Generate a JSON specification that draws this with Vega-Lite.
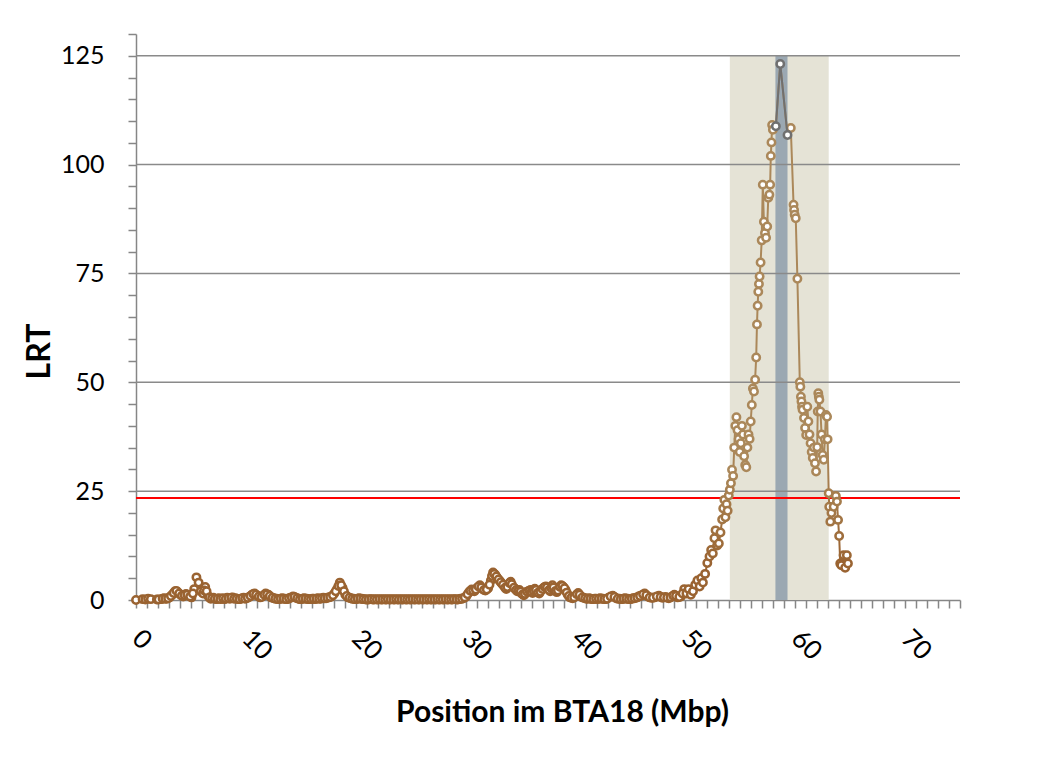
{
"$schema": "https://vega.github.io/schema/vega-lite/v6.json",
"width": 824, "height": 566,
"autosize": "none",
"padding": {"left": 136, "top": 34, "right": 99, "bottom": 167},
"background": "white",
"config": {
 "view": {"stroke": null},
 "font": "Lato",
 "axisX": {"labelAngle": 45, "labelAlign": "left", "labelBaseline": "middle", "labelFontSize": 26, "labelColor": "#000000", "labelPadding": 26, "labelFont": "Lato",
  "tickCount": 75, "labelExpr": "datum.value % 10 === 0 ? datum.label : ''",
  "tickSize": 8, "tickColor": "#868686", "tickWidth": 1.5, "domainColor": "#868686", "domainWidth": 1.5, "grid": false,
  "labelOverlap": false, "labelBound": false, "labelFlush": false,
  "titleFont": "Lato", "titleFontSize": 30, "titleFontWeight": "bold", "titleColor": "#000000",
  "titleX": 426, "titleY": 112, "titleAlign": "center", "titleBaseline": "middle"},
 "axisY": {"labelFontSize": 25, "labelColor": "#000000", "labelPadding": 24, "labelFont": "Lato",
  "tickCount": 26, "labelExpr": "datum.value % 25 === 0 ? datum.label : ''",
  "tickSize": 8, "tickColor": "#868686", "tickWidth": 1.5, "domainColor": "#868686", "domainWidth": 1.5, "grid": false,
  "labelOverlap": false, "labelBound": false, "labelFlush": false,
  "titleFont": "Lato", "titleFontSize": 32, "titleFontWeight": "bold", "titleColor": "#000000",
  "titleX": -97, "titleY": 317, "titleAngle": -90, "titleAlign": "center", "titleBaseline": "middle"}
},
"datasets": {
"bands": [{"x1": 54.05, "x2": 63.05, "band": "region"}, {"x1": 58.2, "x2": 59.3, "band": "peak"}],
"grid": [{"g": 25}, {"g": 50}, {"g": 75}, {"g": 100}, {"g": 125}],
"thr": [{"t": 23.4}],
"main": [
{"p":0,"v":0,"s":"a"},{"p":0.6,"v":0.2,"s":"a"},{"p":0.85,"v":0.1,"s":"a"},{"p":1.1,"v":0.3,"s":"a"},{"p":1.35,"v":0.2,"s":"a"},{"p":1.9,"v":0.1,"s":"a"},{"p":2.3,"v":0.2,"s":"a"},{"p":2.55,"v":0.4,"s":"a"},{"p":2.8,"v":0.3,"s":"a"},{"p":3.05,"v":0.6,"s":"a"},{"p":3.3,"v":1.2,"s":"a"},{"p":3.55,"v":2.0,"s":"a"},{"p":3.8,"v":1.8,"s":"a"},{"p":4.05,"v":1.2,"s":"a"},{"p":4.3,"v":0.8,"s":"a"},{"p":4.55,"v":1.4,"s":"a"},{"p":4.8,"v":1.0,"s":"a"},{"p":5.05,"v":0.6,"s":"a"},{"p":5.3,"v":2.5,"s":"a"},{"p":5.5,"v":5.2,"s":"a"},{"p":5.7,"v":4.0,"s":"a"},{"p":5.9,"v":2.0,"s":"a"},{"p":6.1,"v":1.5,"s":"a"},{"p":6.3,"v":3.0,"s":"a"},{"p":6.55,"v":1.0,"s":"a"},{"p":6.8,"v":0.3,"s":"a"},{"p":7.05,"v":0.5,"s":"a"},{"p":7.3,"v":0.2,"s":"a"},{"p":7.55,"v":0.4,"s":"a"},{"p":7.8,"v":0.3,"s":"a"},{"p":8.05,"v":0.2,"s":"a"},{"p":8.3,"v":0.5,"s":"a"},{"p":8.55,"v":0.3,"s":"a"},{"p":8.8,"v":0.6,"s":"a"},{"p":9.05,"v":0.4,"s":"a"},{"p":9.3,"v":0.2,"s":"a"},{"p":9.55,"v":0.3,"s":"a"},{"p":9.8,"v":0.5,"s":"a"},{"p":10.05,"v":0.4,"s":"a"},{"p":10.3,"v":0.7,"s":"a"},{"p":10.55,"v":1.2,"s":"a"},{"p":10.8,"v":1.5,"s":"a"},{"p":11.05,"v":1.0,"s":"a"},{"p":11.3,"v":0.6,"s":"a"},{"p":11.55,"v":0.9,"s":"a"},{"p":11.8,"v":1.5,"s":"a"},{"p":12.05,"v":1.2,"s":"a"},{"p":12.3,"v":0.6,"s":"a"},{"p":12.55,"v":0.4,"s":"a"},{"p":12.8,"v":0.3,"s":"a"},{"p":13.05,"v":0.2,"s":"a"},{"p":13.3,"v":0.4,"s":"a"},{"p":13.55,"v":0.3,"s":"a"},{"p":13.8,"v":0.2,"s":"a"},{"p":14.05,"v":0.5,"s":"a"},{"p":14.3,"v":0.8,"s":"a"},{"p":14.55,"v":0.5,"s":"a"},{"p":14.8,"v":0.3,"s":"a"},{"p":15.05,"v":0.2,"s":"a"},{"p":15.3,"v":0.4,"s":"a"},{"p":15.55,"v":0.3,"s":"a"},{"p":15.8,"v":0.2,"s":"a"},{"p":16.05,"v":0.3,"s":"a"},{"p":16.3,"v":0.2,"s":"a"},{"p":16.55,"v":0.4,"s":"a"},{"p":16.8,"v":0.3,"s":"a"},{"p":17.05,"v":0.5,"s":"a"},{"p":17.3,"v":0.4,"s":"a"},{"p":17.55,"v":0.6,"s":"a"},{"p":17.8,"v":0.8,"s":"a"},{"p":18.05,"v":1.5,"s":"a"},{"p":18.3,"v":2.5,"s":"a"},{"p":18.55,"v":4.0,"s":"a"},{"p":18.8,"v":2.8,"s":"a"},{"p":19.05,"v":1.2,"s":"a"},{"p":19.3,"v":0.6,"s":"a"},{"p":19.55,"v":0.4,"s":"a"},{"p":19.8,"v":0.3,"s":"a"},{"p":20.05,"v":0.2,"s":"a"},{"p":20.3,"v":0.4,"s":"a"},{"p":20.55,"v":0.3,"s":"a"},{"p":20.8,"v":0.2,"s":"a"},{"p":21.05,"v":0.1,"s":"a"},{"p":21.3,"v":0.2,"s":"a"},{"p":21.55,"v":0.1,"s":"a"},{"p":21.8,"v":0.2,"s":"a"},{"p":22.05,"v":0.1,"s":"a"},{"p":22.3,"v":0.1,"s":"a"},{"p":22.55,"v":0.2,"s":"a"},{"p":22.8,"v":0.1,"s":"a"},{"p":23.05,"v":0.1,"s":"a"},{"p":23.3,"v":0.2,"s":"a"},{"p":23.55,"v":0.1,"s":"a"},{"p":23.8,"v":0.1,"s":"a"},{"p":24.05,"v":0.2,"s":"a"},{"p":24.3,"v":0.1,"s":"a"},{"p":24.55,"v":0.1,"s":"a"},{"p":24.8,"v":0.2,"s":"a"},{"p":25.05,"v":0.1,"s":"a"},{"p":25.3,"v":0.1,"s":"a"},{"p":25.55,"v":0.2,"s":"a"},{"p":25.8,"v":0.1,"s":"a"},{"p":26.05,"v":0.1,"s":"a"},{"p":26.3,"v":0.2,"s":"a"},{"p":26.55,"v":0.1,"s":"a"},{"p":26.8,"v":0.1,"s":"a"},{"p":27.05,"v":0.2,"s":"a"},{"p":27.3,"v":0.1,"s":"a"},{"p":27.55,"v":0.1,"s":"a"},{"p":27.8,"v":0.2,"s":"a"},{"p":28.05,"v":0.1,"s":"a"},{"p":28.3,"v":0.1,"s":"a"},{"p":28.55,"v":0.2,"s":"a"},{"p":28.8,"v":0.1,"s":"a"},{"p":29.05,"v":0.2,"s":"a"},{"p":29.3,"v":0.1,"s":"a"},{"p":29.55,"v":0.3,"s":"a"},{"p":29.8,"v":0.4,"s":"a"},
{"p":30.05,"v":0.8,"s":"a"},{"p":30.3,"v":1.8,"s":"a"},{"p":30.55,"v":2.4,"s":"a"},{"p":30.8,"v":2.0,"s":"a"},{"p":31.05,"v":2.8,"s":"a"},{"p":31.3,"v":3.4,"s":"a"},{"p":31.55,"v":2.5,"s":"a"},{"p":31.8,"v":2.2,"s":"a"},{"p":32.05,"v":2.7,"s":"a"},{"p":32.3,"v":4.5,"s":"a"},{"p":32.5,"v":6.3,"s":"a"},{"p":32.7,"v":5.8,"s":"a"},{"p":32.9,"v":5.0,"s":"a"},{"p":33.1,"v":4.4,"s":"a"},{"p":33.3,"v":3.8,"s":"a"},{"p":33.5,"v":3.2,"s":"a"},{"p":33.7,"v":2.5,"s":"a"},{"p":33.9,"v":3.5,"s":"a"},{"p":34.1,"v":4.2,"s":"a"},{"p":34.3,"v":3.0,"s":"a"},{"p":34.5,"v":2.6,"s":"a"},{"p":34.7,"v":2.0,"s":"a"},{"p":34.9,"v":2.3,"s":"a"},{"p":35.1,"v":1.5,"s":"a"},{"p":35.3,"v":1.1,"s":"a"},{"p":35.5,"v":1.8,"s":"a"},{"p":35.7,"v":2.0,"s":"a"},{"p":35.9,"v":2.3,"s":"a"},{"p":36.1,"v":1.6,"s":"a"},{"p":36.3,"v":2.6,"s":"a"},{"p":36.5,"v":2.0,"s":"a"},{"p":36.7,"v":1.5,"s":"a"},{"p":36.9,"v":2.3,"s":"a"},{"p":37.1,"v":2.8,"s":"a"},{"p":37.3,"v":3.1,"s":"a"},{"p":37.5,"v":2.7,"s":"a"},{"p":37.7,"v":2.0,"s":"a"},{"p":37.9,"v":3.4,"s":"a"},{"p":38.1,"v":2.5,"s":"a"},{"p":38.3,"v":1.8,"s":"a"},{"p":38.5,"v":2.7,"s":"a"},{"p":38.7,"v":3.4,"s":"a"},{"p":38.9,"v":3.0,"s":"a"},{"p":39.1,"v":2.3,"s":"a"},{"p":39.3,"v":1.2,"s":"a"},{"p":39.5,"v":0.6,"s":"a"},{"p":39.75,"v":0.4,"s":"a"},{"p":40.0,"v":0.9,"s":"a"},{"p":40.25,"v":1.6,"s":"a"},{"p":40.5,"v":0.8,"s":"a"},{"p":40.75,"v":0.5,"s":"a"},{"p":41.0,"v":0.3,"s":"a"},{"p":41.25,"v":0.4,"s":"a"},{"p":41.5,"v":0.2,"s":"a"},{"p":41.75,"v":0.3,"s":"a"},{"p":42.0,"v":0.2,"s":"a"},{"p":42.25,"v":0.4,"s":"a"},{"p":42.5,"v":0.3,"s":"a"},{"p":42.75,"v":0.2,"s":"a"},{"p":43.0,"v":0.5,"s":"a"},{"p":43.4,"v":1.0,"s":"a"},{"p":43.7,"v":0.4,"s":"a"},{"p":44.0,"v":0.3,"s":"a"},{"p":44.25,"v":0.2,"s":"a"},{"p":44.5,"v":0.4,"s":"a"},{"p":44.75,"v":0.3,"s":"a"},{"p":45.0,"v":0.2,"s":"a"},{"p":45.25,"v":0.4,"s":"a"},{"p":45.5,"v":0.5,"s":"a"},{"p":45.75,"v":0.8,"s":"a"},{"p":46.0,"v":1.0,"s":"a"},{"p":46.3,"v":1.5,"s":"a"},{"p":46.6,"v":0.8,"s":"a"},{"p":46.9,"v":0.5,"s":"a"},{"p":47.2,"v":0.6,"s":"a"},{"p":47.6,"v":1.0,"s":"a"},{"p":47.9,"v":0.5,"s":"a"},{"p":48.2,"v":0.7,"s":"a"},{"p":48.5,"v":0.4,"s":"a"},{"p":48.8,"v":0.8,"s":"a"},{"p":49.0,"v":1.2,"s":"a"},{"p":49.3,"v":0.6,"s":"a"},{"p":49.6,"v":0.8,"s":"a"},{"p":49.9,"v":2.5,"s":"a"},
{"p":2.05,"v":0.1,"s":"a"},{"p":2.425,"v":0.3,"s":"a"},{"p":2.675,"v":0.3,"s":"a"},{"p":2.925,"v":0.4,"s":"a"},{"p":3.175,"v":0.9,"s":"a"},{"p":3.425,"v":1.6,"s":"a"},{"p":3.675,"v":2.1,"s":"a"},{"p":3.925,"v":1.5,"s":"a"},{"p":4.175,"v":1.0,"s":"a"},{"p":4.425,"v":1.1,"s":"a"},{"p":4.675,"v":1.2,"s":"a"},{"p":4.925,"v":0.8,"s":"a"},{"p":5.175,"v":1.5,"s":"a"},{"p":6.2,"v":2.2,"s":"a"},{"p":6.425,"v":2.0,"s":"a"},{"p":6.675,"v":0.6,"s":"a"},
{"p":6.925,"v":0.4,"s":"a"},{"p":7.175,"v":0.3,"s":"a"},{"p":7.425,"v":0.3,"s":"a"},{"p":7.675,"v":0.2,"s":"a"},{"p":7.925,"v":0.4,"s":"a"},{"p":8.175,"v":0.3,"s":"a"},{"p":8.425,"v":0.4,"s":"a"},{"p":8.675,"v":0.5,"s":"a"},{"p":8.925,"v":0.3,"s":"a"},{"p":9.175,"v":0.3,"s":"a"},{"p":9.425,"v":0.2,"s":"a"},{"p":9.675,"v":0.4,"s":"a"},{"p":9.925,"v":0.3,"s":"a"},{"p":10.175,"v":0.5,"s":"a"},{"p":10.425,"v":0.9,"s":"a"},{"p":10.675,"v":1.4,"s":"a"},{"p":10.925,"v":1.2,"s":"a"},{"p":11.175,"v":0.8,"s":"a"},{"p":11.425,"v":0.7,"s":"a"},{"p":11.675,"v":1.2,"s":"a"},{"p":11.925,"v":1.3,"s":"a"},{"p":12.175,"v":0.9,"s":"a"},{"p":12.425,"v":0.5,"s":"a"},{"p":12.675,"v":0.3,"s":"a"},{"p":12.925,"v":0.2,"s":"a"},{"p":13.175,"v":0.3,"s":"a"},{"p":13.425,"v":0.3,"s":"a"},{"p":13.675,"v":0.2,"s":"a"},{"p":13.925,"v":0.4,"s":"a"},{"p":14.175,"v":0.6,"s":"a"},{"p":14.425,"v":0.7,"s":"a"},{"p":14.675,"v":0.4,"s":"a"},{"p":14.925,"v":0.2,"s":"a"},{"p":15.175,"v":0.3,"s":"a"},{"p":15.425,"v":0.3,"s":"a"},{"p":15.675,"v":0.2,"s":"a"},{"p":15.925,"v":0.2,"s":"a"},{"p":16.175,"v":0.3,"s":"a"},{"p":16.425,"v":0.3,"s":"a"},{"p":16.675,"v":0.3,"s":"a"},{"p":16.925,"v":0.4,"s":"a"},{"p":17.175,"v":0.4,"s":"a"},{"p":17.425,"v":0.5,"s":"a"},{"p":17.675,"v":0.7,"s":"a"},{"p":17.925,"v":1.1,"s":"a"},{"p":18.175,"v":2.0,"s":"a"},{"p":18.425,"v":3.2,"s":"a"},{"p":18.675,"v":3.4,"s":"a"},{"p":18.925,"v":2.0,"s":"a"},{"p":19.175,"v":0.9,"s":"a"},{"p":19.425,"v":0.5,"s":"a"},{"p":19.675,"v":0.3,"s":"a"},{"p":19.925,"v":0.2,"s":"a"},{"p":20.175,"v":0.3,"s":"a"},{"p":20.425,"v":0.3,"s":"a"},{"p":20.675,"v":0.2,"s":"a"},{"p":20.925,"v":0.1,"s":"a"},{"p":21.175,"v":0.1,"s":"a"},{"p":21.425,"v":0.2,"s":"a"},{"p":21.675,"v":0.1,"s":"a"},{"p":21.925,"v":0.1,"s":"a"},{"p":22.175,"v":0.2,"s":"a"},{"p":22.425,"v":0.1,"s":"a"},{"p":22.675,"v":0.1,"s":"a"},{"p":22.925,"v":0.2,"s":"a"},{"p":23.175,"v":0.1,"s":"a"},{"p":23.425,"v":0.1,"s":"a"},{"p":23.675,"v":0.2,"s":"a"},{"p":23.925,"v":0.1,"s":"a"},{"p":24.175,"v":0.1,"s":"a"},{"p":24.425,"v":0.2,"s":"a"},{"p":24.675,"v":0.1,"s":"a"},{"p":24.925,"v":0.1,"s":"a"},{"p":25.175,"v":0.2,"s":"a"},{"p":25.425,"v":0.1,"s":"a"},{"p":25.675,"v":0.1,"s":"a"},{"p":25.925,"v":0.2,"s":"a"},{"p":26.175,"v":0.1,"s":"a"},{"p":26.425,"v":0.1,"s":"a"},{"p":26.675,"v":0.2,"s":"a"},{"p":26.925,"v":0.1,"s":"a"},{"p":27.175,"v":0.1,"s":"a"},{"p":27.425,"v":0.2,"s":"a"},{"p":27.675,"v":0.1,"s":"a"},{"p":27.925,"v":0.1,"s":"a"},{"p":28.175,"v":0.2,"s":"a"},{"p":28.425,"v":0.1,"s":"a"},{"p":28.675,"v":0.1,"s":"a"},{"p":28.925,"v":0.2,"s":"a"},{"p":29.175,"v":0.1,"s":"a"},{"p":29.425,"v":0.2,"s":"a"},{"p":29.675,"v":0.3,"s":"a"},{"p":29.925,"v":0.6,"s":"a"},
{"p":30.175,"v":1.3,"s":"a"},{"p":30.425,"v":2.1,"s":"a"},{"p":30.675,"v":2.2,"s":"a"},{"p":30.925,"v":2.4,"s":"a"},{"p":31.175,"v":3.1,"s":"a"},{"p":31.425,"v":2.9,"s":"a"},{"p":31.675,"v":2.3,"s":"a"},{"p":31.925,"v":2.4,"s":"a"},{"p":32.175,"v":3.5,"s":"a"},{"p":32.4,"v":5.5,"s":"a"},{"p":32.6,"v":6.0,"s":"a"},{"p":32.8,"v":5.4,"s":"a"},{"p":33.0,"v":4.7,"s":"a"},{"p":33.2,"v":4.1,"s":"a"},{"p":33.4,"v":3.5,"s":"a"},{"p":33.6,"v":2.8,"s":"a"},{"p":33.8,"v":3.0,"s":"a"},{"p":34.0,"v":3.9,"s":"a"},{"p":34.2,"v":3.6,"s":"a"},{"p":34.4,"v":2.8,"s":"a"},{"p":34.6,"v":2.3,"s":"a"},{"p":34.8,"v":2.1,"s":"a"},{"p":35.0,"v":1.9,"s":"a"},{"p":35.2,"v":1.3,"s":"a"},{"p":35.4,"v":1.4,"s":"a"},{"p":35.6,"v":1.9,"s":"a"},{"p":35.8,"v":2.1,"s":"a"},{"p":36.0,"v":1.9,"s":"a"},{"p":36.2,"v":2.1,"s":"a"},{"p":36.4,"v":2.3,"s":"a"},{"p":36.6,"v":1.7,"s":"a"},{"p":36.8,"v":1.9,"s":"a"},{"p":37.0,"v":2.5,"s":"a"},{"p":37.2,"v":3.0,"s":"a"},{"p":37.4,"v":2.9,"s":"a"},{"p":37.6,"v":2.3,"s":"a"},{"p":37.8,"v":2.7,"s":"a"},{"p":38.0,"v":2.9,"s":"a"},{"p":38.2,"v":2.1,"s":"a"},{"p":38.4,"v":2.2,"s":"a"},{"p":38.6,"v":3.0,"s":"a"},{"p":38.8,"v":3.2,"s":"a"},{"p":39.0,"v":2.7,"s":"a"},{"p":39.2,"v":1.7,"s":"a"},{"p":39.4,"v":0.9,"s":"a"},{"p":39.625,"v":0.5,"s":"a"},{"p":39.875,"v":0.6,"s":"a"},{"p":40.125,"v":1.3,"s":"a"},{"p":40.375,"v":1.2,"s":"a"},{"p":40.625,"v":0.6,"s":"a"},
{"p":40.875,"v":0.4,"s":"a"},{"p":41.125,"v":0.3,"s":"a"},{"p":41.375,"v":0.3,"s":"a"},{"p":41.625,"v":0.2,"s":"a"},{"p":41.875,"v":0.3,"s":"a"},{"p":42.125,"v":0.3,"s":"a"},{"p":42.375,"v":0.3,"s":"a"},{"p":42.625,"v":0.2,"s":"a"},{"p":42.875,"v":0.3,"s":"a"},{"p":43.2,"v":0.8,"s":"a"},{"p":43.55,"v":0.7,"s":"a"},{"p":43.85,"v":0.3,"s":"a"},{"p":44.125,"v":0.2,"s":"a"},{"p":44.375,"v":0.3,"s":"a"},{"p":44.625,"v":0.3,"s":"a"},{"p":44.875,"v":0.2,"s":"a"},{"p":45.125,"v":0.3,"s":"a"},{"p":45.375,"v":0.4,"s":"a"},{"p":45.625,"v":0.6,"s":"a"},{"p":45.875,"v":0.9,"s":"a"},{"p":46.15,"v":1.3,"s":"a"},{"p":46.45,"v":1.1,"s":"a"},{"p":46.75,"v":0.6,"s":"a"},{"p":47.05,"v":0.5,"s":"a"},{"p":47.4,"v":0.8,"s":"a"},{"p":47.75,"v":0.7,"s":"a"},{"p":48.05,"v":0.6,"s":"a"},{"p":48.35,"v":0.5,"s":"a"},{"p":48.65,"v":0.6,"s":"a"},{"p":48.9,"v":1.0,"s":"a"},{"p":49.15,"v":0.9,"s":"a"},{"p":49.45,"v":0.7,"s":"a"},{"p":49.75,"v":1.5,"s":"a"},
{"p":50.1,"v":1.5,"s":"a"},{"p":50.3,"v":2.5,"s":"a"},{"p":50.5,"v":1.2,"s":"a"},{"p":50.7,"v":2.0,"s":"a"},{"p":50.9,"v":3.5,"s":"a"},{"p":51.1,"v":4.5,"s":"a"},{"p":51.3,"v":3.1,"s":"a"},{"p":51.45,"v":5.0,"s":"a"},{"p":51.6,"v":4.0,"s":"a"},{"p":51.8,"v":6.0,"s":"a"},{"p":52.0,"v":8.5,"s":"a"},{"p":52.2,"v":10.0,"s":"a"},{"p":52.35,"v":11.5,"s":"a"},{"p":52.5,"v":10.7,"s":"a"},{"p":52.65,"v":14.2,"s":"a"},{"p":52.75,"v":16.0,"s":"a"},{"p":52.9,"v":12.5,"s":"a"},{"p":53.05,"v":13.0,"s":"a"},{"p":53.2,"v":15.5,"s":"a"},{"p":53.35,"v":18.5,"s":"a"},{"p":53.45,"v":21.0,"s":"a"},{"p":53.55,"v":23.0,"s":"a"},{"p":53.65,"v":19.0,"s":"a"},{"p":53.75,"v":22.0,"s":"a"},{"p":53.85,"v":20.5,"s":"a"},{"p":53.95,"v":24.0,"s":"a"},{"p":54.05,"v":25.3,"s":"a"},{"p":54.15,"v":26.8,"s":"a"},{"p":54.25,"v":29.9,"s":"a"},{"p":54.35,"v":28.5,"s":"a"},{"p":54.45,"v":35.0,"s":"a"},{"p":54.55,"v":40.0,"s":"a"},{"p":54.65,"v":42.0,"s":"a"},{"p":54.75,"v":39.0,"s":"a"},{"p":54.85,"v":37.0,"s":"a"},{"p":54.95,"v":34.0,"s":"a"},{"p":55.05,"v":36.0,"s":"a"},{"p":55.15,"v":40.0,"s":"a"},{"p":55.25,"v":38.0,"s":"a"},{"p":55.35,"v":33.0,"s":"a"},{"p":55.45,"v":31.0,"s":"a"},{"p":55.55,"v":30.5,"s":"a"},{"p":55.65,"v":35.0,"s":"a"},{"p":55.75,"v":38.0,"s":"a"},{"p":55.85,"v":37.0,"s":"a"},{"p":55.95,"v":41.0,"s":"a"},{"p":56.05,"v":44.8,"s":"a"},{"p":56.15,"v":48.6,"s":"a"},{"p":56.25,"v":47.9,"s":"a"},{"p":56.35,"v":50.6,"s":"a"},{"p":56.45,"v":55.7,"s":"a"},{"p":56.52,"v":63.3,"s":"a"},{"p":56.58,"v":67.6,"s":"a"},{"p":56.64,"v":70.8,"s":"a"},{"p":56.7,"v":72.6,"s":"a"},{"p":56.76,"v":74.3,"s":"a"},{"p":56.85,"v":77.5,"s":"a"},{"p":56.95,"v":82.6,"s":"a"},{"p":57.05,"v":95.4,"s":"a"},{"p":57.15,"v":86.9,"s":"a"},{"p":57.25,"v":84.3,"s":"a"},{"p":57.35,"v":83.2,"s":"a"},{"p":57.45,"v":85.8,"s":"a"},{"p":57.55,"v":92.4,"s":"a"},{"p":57.65,"v":93.1,"s":"a"},{"p":57.72,"v":95.4,"s":"a"},{"p":57.78,"v":102.0,"s":"a"},{"p":57.84,"v":105.1,"s":"a"},{"p":57.9,"v":109.1,"s":"a"},{"p":57.97,"v":108.0,"s":"a"},
{"p":58.24,"v":108.8,"s":"b"},{"p":58.64,"v":123.1,"s":"b"},{"p":59.3,"v":106.8,"s":"b"},
{"p":59.6,"v":108.4,"s":"a"},{"p":59.85,"v":90.8,"s":"a"},{"p":59.9,"v":89.6,"s":"a"},{"p":59.95,"v":88.5,"s":"a"},{"p":60.05,"v":87.7,"s":"a"},{"p":60.2,"v":73.8,"s":"a"},{"p":60.42,"v":50.0,"s":"a"},{"p":60.47,"v":49.0,"s":"a"},{"p":60.52,"v":46.7,"s":"a"},{"p":60.57,"v":45.6,"s":"a"},{"p":60.62,"v":44.4,"s":"a"},{"p":60.67,"v":43.7,"s":"a"},{"p":60.8,"v":41.8,"s":"a"},{"p":60.9,"v":39.5,"s":"a"},{"p":61.0,"v":37.9,"s":"a"},{"p":61.1,"v":44.4,"s":"a"},{"p":61.2,"v":41.0,"s":"a"},{"p":61.3,"v":38.0,"s":"a"},{"p":61.4,"v":36.0,"s":"a"},{"p":61.5,"v":34.0,"s":"a"},{"p":61.6,"v":32.6,"s":"a"},{"p":61.7,"v":35.0,"s":"a"},{"p":61.8,"v":31.4,"s":"a"},{"p":61.9,"v":29.5,"s":"a"},{"p":62.0,"v":35.1,"s":"a"},{"p":62.05,"v":43.3,"s":"a"},{"p":62.1,"v":47.5,"s":"a"},{"p":62.15,"v":46.7,"s":"a"},{"p":62.2,"v":46.0,"s":"a"},{"p":62.3,"v":43.3,"s":"a"},{"p":62.4,"v":38.0,"s":"a"},{"p":62.5,"v":33.3,"s":"a"},{"p":62.6,"v":32.2,"s":"a"},{"p":62.7,"v":36.9,"s":"a"},{"p":62.8,"v":42.5,"s":"a"},{"p":62.9,"v":42.1,"s":"a"},{"p":62.95,"v":36.9,"s":"a"},{"p":63.05,"v":24.5,"s":"a"},{"p":63.1,"v":21.4,"s":"a"},{"p":63.2,"v":18.0,"s":"a"},{"p":63.3,"v":20.0,"s":"a"},{"p":63.5,"v":21.4,"s":"a"},{"p":63.7,"v":23.9,"s":"a"},{"p":63.8,"v":22.6,"s":"a"},{"p":63.9,"v":18.4,"s":"a"},{"p":64.0,"v":14.7,"s":"a"},{"p":64.1,"v":8.4,"s":"a"},{"p":64.2,"v":8.0,"s":"a"},{"p":64.4,"v":10.3,"s":"a"},{"p":64.55,"v":7.4,"s":"a"},{"p":64.7,"v":10.3,"s":"a"},{"p":64.8,"v":8.4,"s":"a"}
]
},
"layer": [
{"data": {"name": "bands"}, "mark": {"type": "rect"},
 "encoding": {
  "x": {"field": "x1", "type": "quantitative", "title": "Position im BTA18 (Mbp)", "scale": {"domain": [0, 75], "nice": false, "zero": false}},
  "x2": {"field": "x2"},
  "y": {"datum": 125, "type": "quantitative", "title": "LRT", "scale": {"domain": [0, 130], "nice": false}},
  "y2": {"datum": 0},
  "color": {"field": "band", "type": "nominal", "scale": {"domain": ["region", "peak"], "range": ["#e5e3d6", "#9ba8b2"]}, "legend": null}
 }},
{"data": {"name": "grid"}, "mark": {"type": "rule", "color": "#8a8a8a", "strokeWidth": 1.5},
 "encoding": {"y": {"field": "g", "type": "quantitative", "title": "LRT", "scale": {"domain": [0, 130], "nice": false}}}},
{"data": {"name": "thr"}, "mark": {"type": "rule", "color": "#ff0000", "strokeWidth": 2},
 "encoding": {"y": {"field": "t", "type": "quantitative", "title": "LRT", "scale": {"domain": [0, 130], "nice": false}}}},
{"data": {"name": "main"},
 "mark": {"type": "line", "strokeWidth": 2,
  "color": {"gradient": "linear", "x1": 0, "y1": 1, "x2": 0, "y2": 0,
   "stops": [{"offset": 0, "color": "#9a6331"}, {"offset": 0.08, "color": "#9a6331"}, {"offset": 0.28, "color": "#ab885a"}, {"offset": 1, "color": "#ab885a"}]}},
 "encoding": {
  "x": {"field": "p", "type": "quantitative", "title": "Position im BTA18 (Mbp)", "scale": {"domain": [0, 75], "nice": false, "zero": false}},
  "y": {"field": "v", "type": "quantitative", "title": "LRT", "scale": {"domain": [0, 130], "nice": false}}
 }},
{"data": {"name": "main"}, "transform": [{"filter": "datum.s === 'a'"}],
 "mark": {"type": "point", "shape": "circle", "filled": true, "fill": "white", "fillOpacity": 1, "size": 55, "strokeWidth": 2.5, "opacity": 1},
 "encoding": {
  "x": {"field": "p", "type": "quantitative", "title": "Position im BTA18 (Mbp)", "scale": {"domain": [0, 75], "nice": false, "zero": false}},
  "y": {"field": "v", "type": "quantitative", "title": "LRT", "scale": {"domain": [0, 130], "nice": false}},
  "stroke": {"field": "v", "type": "quantitative", "scale": {"domain": [8, 30], "range": ["#9a6331", "#ab885a"], "clamp": true}, "legend": null}
 }},
{"data": {"name": "main"}, "transform": [{"filter": "datum.s === 'b'"}],
 "mark": {"type": "line", "strokeWidth": 2, "color": "#707070"},
 "encoding": {
  "x": {"field": "p", "type": "quantitative", "title": "Position im BTA18 (Mbp)", "scale": {"domain": [0, 75], "nice": false, "zero": false}},
  "y": {"field": "v", "type": "quantitative", "title": "LRT", "scale": {"domain": [0, 130], "nice": false}}
 }},
{"data": {"name": "main"}, "transform": [{"filter": "datum.s === 'b'"}],
 "mark": {"type": "point", "shape": "circle", "filled": true, "fill": "white", "fillOpacity": 1, "size": 55, "strokeWidth": 2.5, "stroke": "#707070", "opacity": 1},
 "encoding": {
  "x": {"field": "p", "type": "quantitative", "title": "Position im BTA18 (Mbp)", "scale": {"domain": [0, 75], "nice": false, "zero": false}},
  "y": {"field": "v", "type": "quantitative", "title": "LRT", "scale": {"domain": [0, 130], "nice": false}}
 }}
]
}
